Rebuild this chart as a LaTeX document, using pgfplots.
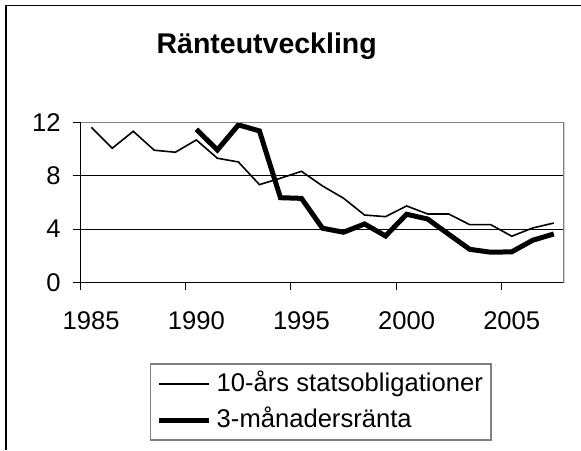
\documentclass[border=0pt]{standalone}
\usepackage{fontspec}
\setmainfont{Liberation Sans}
\usepackage{pgfplots}
\pgfplotsset{compat=1.18}
\definecolor{framegray}{HTML}{808080}
\begin{document}
\begin{tikzpicture}[x=1pt,y=1pt]
\useasboundingbox (0,0) rectangle (581,450);
\fill[white] (0,0) rectangle (581,450);
\draw[line width=1.6pt] (5.8,0) -- (5.8,444.5) -- (581,444.5);
\node[anchor=base, font=\fontsize{28.5}{32}\selectfont\bfseries, inner sep=0pt] at (266.7,396.7) {Ränteutveckling};
\begin{axis}[
  at={(80.7pt,167.5pt)}, anchor=south west,
  scale only axis, width=483.6pt, height=160pt,
  xmin=1984.5, xmax=2007.5, ymin=0, ymax=12,
  axis lines*=left, axis line style={-, line width=1.3pt, black},
  ytick={0,4,8,12}, ymajorgrids, grid style={black, line width=0.8pt},
  xtick={1985,1990,1995,2000,2005}, xticklabels={1985,1990,1995,2000,2005},
  minor xtick={1984.5,1989.5,1994.5,1999.5,2004.5},
  major x tick style={draw=none},
  tick align=outside, major tick length=8pt, minor tick length=7.5pt,
  tick style={black, line width=1pt},
  tick label style={font=\fontsize{25.6}{30}\selectfont, inner sep=0pt},
  /pgf/number format/assume math mode=true,
  yticklabel style={anchor=east, xshift=-12pt},
  xticklabel style={anchor=base, yshift=-38.5pt},
  legend cell align=left,
  legend style={at={(axis description cs:0.1433,-0.505)}, anchor=north west,
    draw=framegray, line width=1.5pt, inner xsep=6pt, inner ysep=5pt,
    row sep=6pt, column sep=3pt,
    nodes={inner sep=2pt, text height=20pt, text depth=6pt, font=\fontsize{25.6}{30}\selectfont}},
  legend image code/.code={\draw[#1] (0pt,0pt) -- (50pt,0pt);},
]
\addplot[black, line width=1.6pt] coordinates {
(1985,11.64) (1986,10.07) (1987,11.34) (1988,9.92) (1989,9.77) (1990,10.69)
(1991,9.32) (1992,9.04) (1993,7.34) (1994,7.82) (1995,8.34) (1996,7.24)
(1997,6.32) (1998,5.06) (1999,4.94) (2000,5.74) (2001,5.14) (2002,5.14)
(2003,4.34) (2004,4.34) (2005,3.47) (2006,4.09) (2007,4.46)};
\addlegendentry{10-års statsobligationer}
\addplot[black, line width=5pt] coordinates {
(1990,11.49) (1991,9.94) (1992,11.82) (1993,11.37) (1994,6.36) (1995,6.31)
(1996,4.07) (1997,3.77) (1998,4.39) (1999,3.49) (2000,5.12) (2001,4.76)
(2002,3.62) (2003,2.49) (2004,2.27) (2005,2.30) (2006,3.17) (2007,3.64)};
\addlegendentry{3-månadersränta}
\draw[framegray, line width=1.8pt] (rel axis cs:0,1) -- (rel axis cs:1,1) -- (rel axis cs:1,0);
\end{axis}
\end{tikzpicture}
\end{document}
